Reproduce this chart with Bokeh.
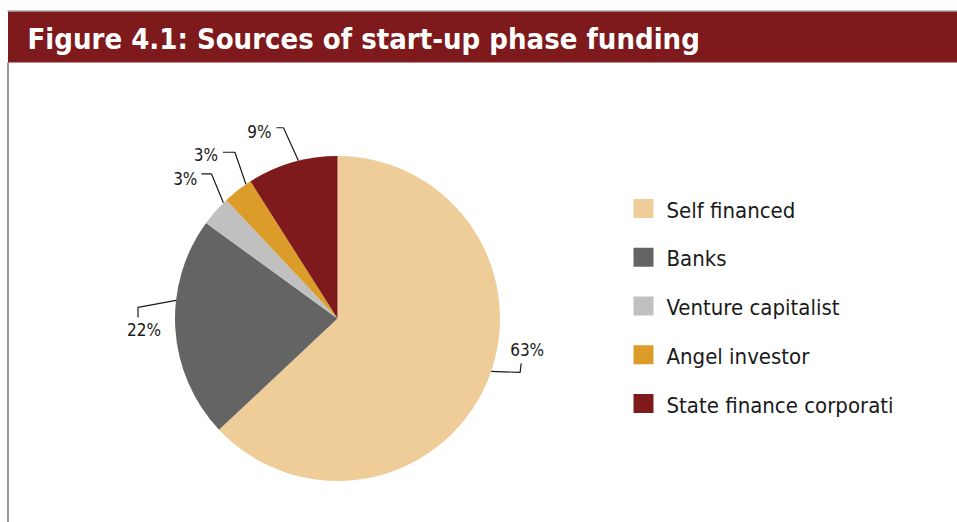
import math
from bokeh.plotting import figure
from bokeh.models import Range1d, ColumnDataSource
from bokeh.core.properties import value
from bokeh.embed import file_html
from bokeh.resources import INLINE

# ---------------- data ----------------
title_text = "Figure 4.1: Sources of start-up phase funding"
categories = ["Self financed", "Banks", "Venture capitalist", "Angel investor", "State finance corporati"]
shares = [63, 22, 3, 3, 9]
pct_labels = ["63%", "22%", "3%", "3%", "9%"]

# ---------------- style ----------------
colors = ["#EFCD98", "#646464", "#C0C0C0", "#DB9C2A", "#7E1A1C"]
bar_color = "#7E1A1C"
W, H = 957, 522
FONT_TITLE = "DejaVu Sans Condensed"
FONT = "DejaVu Sans Condensed"

# leader-line styling (angle tweak in degrees, elbow offsets in px, label offset/align)
leader_tweak = [4.4, -10.0, -4.0, -3.5, -2.3]
leader_pts = [[(29, -1), (30, 8)],
              [(-38, -7), (-38, -17)],
              [(-12, 29), (-22, 29)],
              [(-11, 32), (-23, 32)],
              [(-15, 33), (-22, 33)]]
label_off = [(36, 21, "center"), (-32, -30, "center"), (-26, 24, "right"),
             (-28, 29, "right"), (-27, 29, "right")]

p = figure(width=W, height=H, output_backend="svg", toolbar_location=None,
           x_range=Range1d(0, W), y_range=Range1d(0, H), min_border=0)
p.axis.visible = False
p.grid.visible = False
p.outline_line_color = None
p.background_fill_color = "white"
p.border_fill_color = "white"

def Y(page_y):
    return H - page_y

# title bar
p.quad(left=7.5, right=W, top=Y(11), bottom=Y(62), fill_color=bar_color, line_color=None)
p.segment(x0=7, y0=Y(10.5), x1=W, y1=Y(10.5), line_color="#7a7a7a", line_width=1)
p.segment(x0=7.5, y0=Y(62), x1=7.5, y1=Y(H), line_color="#333333", line_width=1)
p.text(x=[27], y=[Y(38)], text=[title_text], text_color="white",
       text_font=value(FONT_TITLE), text_font_style="bold", text_font_size="29px",
       text_baseline="middle", text_align="left")

# pie
cx, cy, R = 337, Y(318), 162.5
total = float(sum(shares))
starts, ends, mids = [], [], []
cum = 0.0
for s in shares:
    a0 = math.pi / 2 - 2 * math.pi * cum / total
    cum += s
    a1 = math.pi / 2 - 2 * math.pi * cum / total
    starts.append(a1)
    ends.append(a0)
    mids.append((a0 + a1) / 2)
src = ColumnDataSource(dict(start=starts, end=ends, color=colors, cat=categories))
p.wedge(x=cx, y=cy, radius=R, start_angle="start", end_angle="end", direction="anticlock",
        fill_color="color", line_color=None, source=src)

# leader lines and labels
xs, ys = [], []
for i, m in enumerate(mids):
    a = m + math.radians(leader_tweak[i])
    ax, ay = cx + R * math.cos(a), cy + R * math.sin(a)
    lx = [ax] + [ax + dx for dx, dy in leader_pts[i]]
    ly = [ay] + [ay + dy for dx, dy in leader_pts[i]]
    xs.append(lx)
    ys.append(ly)
    ox, oy, al = label_off[i]
    p.text(x=[ax + ox], y=[ay + oy], text=[pct_labels[i]], text_color="#1a1a1a",
           text_font=value(FONT), text_font_size="17px",
           text_baseline="middle", text_align=al)
p.multi_line(xs=xs, ys=ys, line_color="#1a1a1a", line_width=1.2)

# legend
leg_y0, leg_dy = 208, 48.75
leg_y = [Y(leg_y0 + i * leg_dy) for i in range(len(categories))]
p.rect(x=[643] * len(categories), y=leg_y, width=20, height=19, fill_color=colors, line_color=None)
p.text(x=[666] * len(categories), y=[v - 1.5 for v in leg_y], text=categories, text_color="#1a1a1a",
       text_font=value(FONT), text_font_size="22px",
       text_baseline="middle", text_align="left")

open("out.html", "w").write(file_html(p, INLINE))
